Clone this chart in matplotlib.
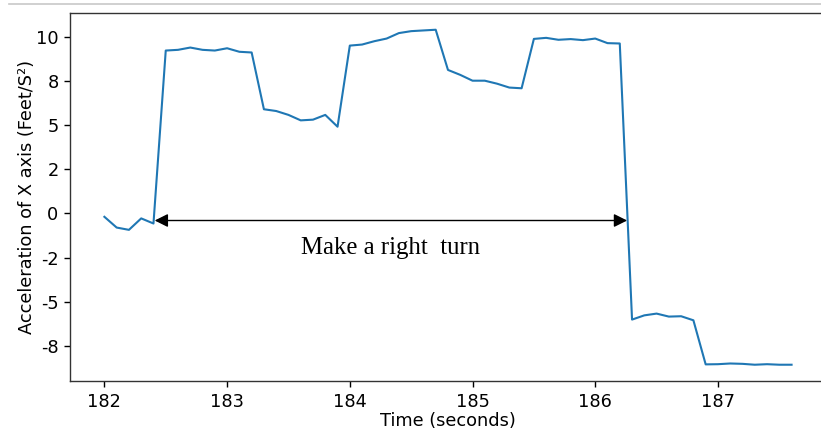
import matplotlib
matplotlib.use("Agg")
import matplotlib.pyplot as plt
from matplotlib.lines import Line2D
from matplotlib.ticker import FuncFormatter
import numpy as np

# Time stamps (seconds), sampled every 0.1 s
time_s = np.round(np.arange(182.0, 187.61, 0.1), 1)

# Lateral acceleration along the X axis (Feet/S^2)
accel_x = [
    -0.19, -0.80, -0.93, -0.28, -0.57,
    9.24, 9.28, 9.41, 9.28, 9.24, 9.37, 9.17, 9.13,
    5.91, 5.81, 5.59, 5.28, 5.32, 5.59, 4.92,
    9.52, 9.58, 9.77, 9.92, 10.23, 10.34, 10.38, 10.42,
    8.14, 7.86, 7.53, 7.53, 7.36, 7.14, 7.10,
    9.90, 9.96, 9.85, 9.89, 9.83, 9.92, 9.66, 9.64,
    -6.02, -5.78, -5.68, -5.85, -5.83, -6.06,
    -8.56, -8.55, -8.51, -8.53, -8.58, -8.55, -8.58, -8.58,
]

y_ticks = [10, 7.5, 5, 2.5, 0, -2.5, -5, -7.5]
x_ticks = [182, 183, 184, 185, 186, 187]

turn_start, turn_end, turn_level = 182.41, 186.26, -0.4
turn_label = "Make a right  turn"

fig = plt.figure(figsize=(8.21, 4.33), dpi=100)
ax = fig.add_axes([0.0853, 0.119, 0.9207, 0.851])

ax.plot(time_s, accel_x, color="#1f77b4", lw=1.5)

ax.set_yticks(y_ticks)
ax.yaxis.set_major_formatter(FuncFormatter(lambda v, p: "{:.0f}".format(v)))
ax.set_xticks(x_ticks)
ax.tick_params(labelsize=12.8, length=4.3, width=1.0, pad=4)

ax.set_xlabel("Time (seconds)", fontsize=12.8, labelpad=1)
ax.set_ylabel("Acceleration of X axis (Feet/S\u00b2)", fontsize=12.8, labelpad=0)

# Double-headed arrow spanning the turn
ax.annotate("", xy=(turn_start, turn_level), xytext=(turn_end, turn_level),
            arrowprops=dict(arrowstyle="<|-|>", color="black", lw=1.0,
                            mutation_scale=20, shrinkA=0, shrinkB=0))
ax.text((turn_start + turn_end) / 2, -1.97, turn_label,
        family="Liberation Serif", fontsize=17.8, ha="center", va="center")

for s in ax.spines.values():
    s.set_color("#333333")
    s.set_linewidth(1.0)

# thin grey rule along the top of the figure
fig.add_artist(Line2D([9 / 821, 1.0], [1 - 4 / 433, 1 - 4 / 433],
                      transform=fig.transFigure, color="#c8c8c8", lw=1.2))

fig.savefig("out.png", dpi=100)
